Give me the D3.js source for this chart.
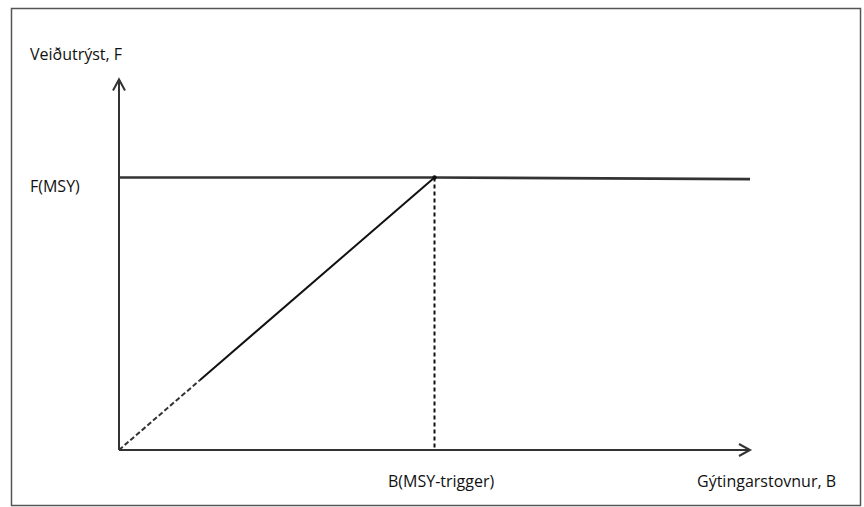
<!DOCTYPE html>
<html><head><meta charset="utf-8">
<script src="https://cdn.jsdelivr.net/npm/d3@7"></script>
<style>html,body{margin:0;padding:0;background:#fff;}svg{display:block;}</style>
</head><body>
<script>
// Data
const bTrigger = 0.5;          // B(MSY-trigger) position on biomass axis
const fMSY = 1.0;              // F(MSY) level
const bMax = 1.0;              // extent of the rule line
const dashedUntil = 0.128;     // dashed portion of the slope near origin
const ruleBiomass = [0, bTrigger, bMax];
const ruleF = [0, fMSY, 0.994];
const xLabels = ["B(MSY-trigger)", "Gýtingarstovnur, B"];
const yLabels = ["F(MSY)", "Veiðutrýst, F"];

const W = 864, H = 507;
const svg = d3.select("body").append("svg").attr("width", W).attr("height", H);
const col = "#333";

// frame
svg.append("rect").attr("x", 11.5).attr("y", 8.5).attr("width", 849).attr("height", 497)
  .attr("fill", "none").attr("stroke", "#555").attr("stroke-width", 1.5);

const x = d3.scaleLinear().domain([0, 1]).range([119, 750]);
const y = d3.scaleLinear().domain([0, 1]).range([450, 177.5]);

// axes with arrows
const yTop = y(1.36), xRight = x(1.0);
svg.append("line").attr("x1", x(0)).attr("x2", x(0)).attr("y1", y(0)).attr("y2", yTop)
  .attr("stroke", col).attr("stroke-width", 2);
svg.append("path").attr("d", `M${x(0)-6},${yTop+11}L${x(0)},${yTop}L${x(0)+6},${yTop+11}`)
  .attr("fill", "none").attr("stroke", col).attr("stroke-width", 2);
svg.append("line").attr("x1", x(0)).attr("x2", xRight).attr("y1", y(0)).attr("y2", y(0))
  .attr("stroke", col).attr("stroke-width", 2);
svg.append("path").attr("d", `M${xRight-11},${y(0)-6}L${xRight},${y(0)}L${xRight-11},${y(0)+6}`)
  .attr("fill", "none").attr("stroke", col).attr("stroke-width", 2);

// F(MSY) reference line left part
svg.append("line").attr("x1", x(0)).attr("x2", x(bTrigger)).attr("y1", y(fMSY)).attr("y2", y(fMSY))
  .attr("stroke", col).attr("stroke-width", 2.6);

// rule: dashed start
const slope = fMSY / bTrigger;
svg.append("line").attr("x1", x(0)).attr("y1", y(0))
  .attr("x2", x(dashedUntil)).attr("y2", y(dashedUntil * slope))
  .attr("stroke", col).attr("stroke-width", 2).attr("stroke-dasharray", "5,2.5");
svg.append("line").attr("x1", x(dashedUntil)).attr("y1", y(dashedUntil * slope))
  .attr("x2", x(bTrigger)).attr("y2", y(fMSY))
  .attr("stroke", "#111").attr("stroke-width", 2);
// flat part
svg.append("line").attr("x1", x(ruleBiomass[1])).attr("y1", y(ruleF[1]))
  .attr("x2", x(ruleBiomass[2])).attr("y2", y(ruleF[2]))
  .attr("stroke", col).attr("stroke-width", 2.6);
// vertical dotted at trigger
svg.append("line").attr("x1", x(bTrigger)).attr("x2", x(bTrigger)).attr("y1", y(fMSY)).attr("y2", y(0))
  .attr("stroke", "#111").attr("stroke-width", 2).attr("stroke-dasharray", "4,3");
svg.append("circle").attr("cx", x(bTrigger)).attr("cy", y(fMSY)).attr("r", 2.2).attr("fill", "#111");

// labels
const font = "'Open Sans', sans-serif";
const fs = 16;
svg.append("text").attr("x", 30).attr("y", 60).text(yLabels[1])
  .attr("font-family", font).attr("font-size", fs).attr("fill", "#111");
svg.append("text").attr("x", 30).attr("y", 192).text(yLabels[0])
  .attr("font-family", font).attr("font-size", fs).attr("fill", "#111");
svg.append("text").attr("x", 388).attr("y", 487).text(xLabels[0])
  .attr("font-family", font).attr("font-size", fs).attr("fill", "#111");
svg.append("text").attr("x", 697).attr("y", 487).text(xLabels[1])
  .attr("font-family", font).attr("font-size", fs).attr("fill", "#111");
</script>
</body></html>
